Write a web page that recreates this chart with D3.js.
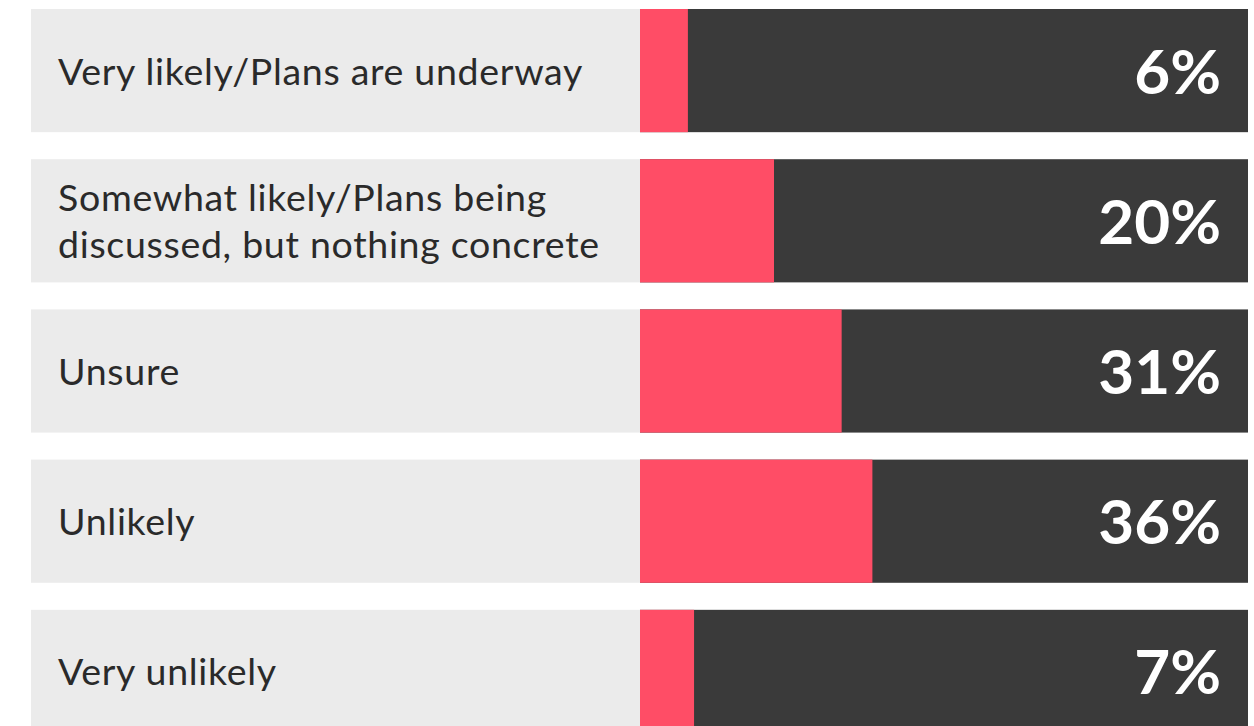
<!DOCTYPE html>
<html>
<head>
<meta charset="utf-8">
<script src="https://cdn.jsdelivr.net/npm/d3@7"></script>
<style>
  html, body { margin: 0; padding: 0; background: #fff; }
  svg { display: block; }
</style>
</head>
<body>
<script>
'use strict';

var categories = [
  'Very likely/Plans are underway',
  'Somewhat likely/Plans being discussed, but nothing concrete',
  'Unsure',
  'Unlikely',
  'Very unlikely'
];

var labelLines = [
  ['Very likely/Plans are underway'],
  ['Somewhat likely/Plans being', 'discussed, but nothing concrete'],
  ['Unsure'],
  ['Unlikely'],
  ['Very unlikely']
];

var values = [6, 20, 31, 36, 7];

var width = 1254;
var height = 726;

var panelLeft = 31;
var barLeft = 640;
var barRight = 1248;

var svg = d3.select('body').append('svg')
  .attr('width', width)
  .attr('height', height);

var y = d3.scaleBand()
  .domain(categories)
  .range([9, 733])
  .paddingInner(0.18)
  .paddingOuter(0);

var x = d3.scaleLinear()
  .domain([0, 100])
  .range([barLeft + 11, barLeft + 626]);

var rows = svg.selectAll('g.row')
  .data(categories)
  .enter().append('g')
  .attr('class', 'row')
  .attr('transform', function(d) { return 'translate(0,' + y(d) + ')'; });

// label panel
rows.append('rect')
  .attr('x', panelLeft)
  .attr('width', barLeft - panelLeft)
  .attr('height', y.bandwidth())
  .style('fill', '#ebebeb');

// dark background bar
rows.append('rect')
  .attr('x', barLeft)
  .attr('width', barRight - barLeft)
  .attr('height', y.bandwidth())
  .style('fill', '#3a3a3a');

// red value bar
rows.append('rect')
  .attr('x', barLeft)
  .attr('width', function(d, i) { return x(values[i]) - barLeft; })
  .attr('height', y.bandwidth())
  .style('fill', '#ff4d66');

rows.append('text')
  .attr('x', 58)
  .style('font-family', 'Lato, sans-serif')
  .style('font-size', '37.5px')
  .style('letter-spacing', '0.7px')
  .style('fill', '#2a2a2a')
  .each(function(d, i) {
    var lines = labelLines[i];
    var lh = 47;
    var mid = y.bandwidth() / 2;
    var first = mid - (lines.length - 1) * lh / 2 + 14;
    d3.select(this).selectAll('tspan')
      .data(lines)
      .enter().append('tspan')
      .attr('x', 58)
      .attr('y', function(l, j) { return first + j * lh; })
      .text(function(l) { return l; });
  });

rows.append('text')
  .attr('x', 1221)
  .attr('y', y.bandwidth() / 2 + 23)
  .attr('text-anchor', 'end')
  .style('font-family', 'Lato, sans-serif')
  .style('font-weight', 'bold')
  .style('font-size', '62px')
  .style('fill', '#ffffff')
  .text(function(d, i) { return values[i] + '%'; });
</script>
</body>
</html>
